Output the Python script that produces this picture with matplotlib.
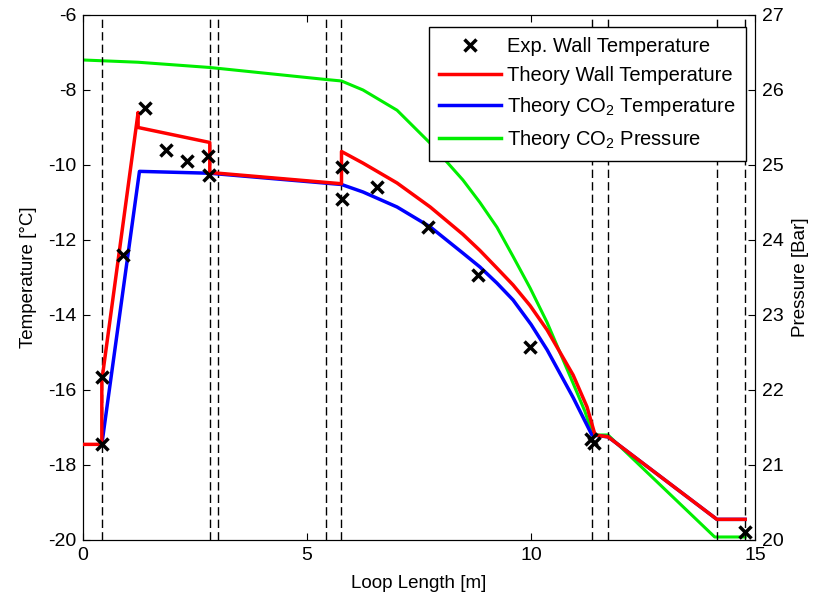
import numpy as np
import matplotlib
matplotlib.use('Agg')
import matplotlib.pyplot as plt

plt.rcParams['font.family'] = ['Liberation Sans', 'DejaVu Sans']
plt.rcParams['mathtext.fontset'] = 'custom'
plt.rcParams['mathtext.rm'] = 'Liberation Sans'
plt.rcParams['mathtext.it'] = 'Liberation Sans'
plt.rcParams['axes.unicode_minus'] = False

# experimental wall temperature [degC]
exp_x = [0.42, 0.42, 0.89, 1.38, 1.85, 2.32, 2.79, 2.81, 5.78, 5.78, 6.56, 7.7, 8.82, 9.98, 11.35, 11.4, 14.78]
exp_T = [-17.45, -15.65, -12.4, -8.48, -9.6, -9.89, -9.76, -10.27, -10.05, -10.91, -10.58, -11.65, -12.93, -14.85, -17.3, -17.42, -19.8]

# theory wall temperature
wall_x = [0, 0.42, 0.42, 1.23, 1.23, 2.83, 2.83, 5.77, 5.77, 6.25, 7.01, 7.75, 8.48, 8.86,
          9.24, 9.6, 9.98, 10.36, 10.94, 11.25, 11.43, 11.72, 14.15, 14.78]
wall_T = [-17.45, -17.45, -15.75, -8.6, -9.0, -9.4, -10.2, -10.5, -9.64, -9.95, -10.48, -11.12, -11.85, -12.28,
          -12.75, -13.2, -13.75, -14.4, -15.6, -16.45, -17.2, -17.25, -19.45, -19.45]

# theory CO2 temperature
co2_x = [0.42, 1.26, 2.83, 5.77, 6.25, 7.01, 7.75, 8.48, 8.86, 9.24, 9.6, 10.0, 10.36, 10.94, 11.36,
         11.72, 14.15, 14.78]
co2_T = [-17.45, -10.17, -10.22, -10.52, -10.72, -11.12, -11.65, -12.35, -12.72, -13.15, -13.6, -14.25, -14.93, -16.2, -17.2,
         -17.25, -19.45, -19.45]

# theory CO2 pressure [bar]
p_x = [0, 1.23, 2.83, 5.42, 5.77, 6.25, 7.01, 7.75, 8.48, 8.86, 9.24, 9.6, 9.98, 10.36, 10.94, 11.2,
       11.38, 11.72, 14.1, 14.78]
p_P = [26.4, 26.37, 26.3, 26.14, 26.12, 26.0, 25.73, 25.29, 24.8, 24.5, 24.17, 23.78, 23.36, 22.9, 22.09, 21.72,
       21.4, 21.4, 20.04, 20.04]

# section boundaries
bounds = [0.42, 2.83, 3.01, 5.42, 5.77, 11.36, 11.72, 14.15, 14.78]

fig = plt.figure(figsize=(8.17, 5.97), dpi=100)
ax = fig.add_axes([0.1016, 0.0955, 0.8225, 0.8794])
ax2 = ax.twinx()

for b in bounds:
    ax.axvline(b, color='k', ls=(0, (6, 3)), lw=1.0, zorder=1)

ax2.plot(p_x, p_P, color='#00ee00', lw=2.2, zorder=2)
l_co2, = ax.plot(co2_x, co2_T, color='#0000ff', lw=2.5, zorder=2)
l_wall, = ax.plot(wall_x, wall_T, color='#ff0000', lw=2.5, zorder=3)
l_exp, = ax.plot(exp_x, exp_T, 'x', color='k', ms=9, mew=2.5, zorder=4)
l_p, = ax.plot([], [], color='#00ee00', lw=2.5)

ax.set_zorder(ax2.get_zorder() + 1)
ax.patch.set_visible(False)

ax.set_xlim(0, 15)
ax.set_ylim(-20, -6)
ax2.set_ylim(20, 27)
ax.set_xticks([0, 5, 10, 15])
ax.set_yticks(np.arange(-20, -5, 2))
ax2.set_yticks(np.arange(20, 28, 1))

ax.tick_params(direction='in', top=True, labelsize=14, length=5, pad=5)
ax2.tick_params(direction='in', labelsize=14, length=5, pad=5)

ax.set_xlabel('Loop Length [m]', fontsize=13.5, labelpad=8)
ax.set_ylabel('Temperature [°C]', fontsize=13.5, labelpad=8)
ax2.set_ylabel('Pressure [Bar]', fontsize=13.5, labelpad=6)

leg = ax.legend([l_exp, l_wall, l_co2, l_p],
                ['Exp. Wall Temperature', 'Theory Wall Temperature',
                 'Theory CO$_2$ Temperature', 'Theory CO$_2$ Pressure'],
                loc='upper right', bbox_to_anchor=(0.987, 0.977), borderaxespad=0,
                fontsize=14.5, fancybox=False, edgecolor='k', framealpha=1,
                handlelength=3.1, handletextpad=0.3, labelspacing=0.5, borderpad=0.5)
leg.get_frame().set_linewidth(1.0)

fig.savefig('out.png', dpi=100)
